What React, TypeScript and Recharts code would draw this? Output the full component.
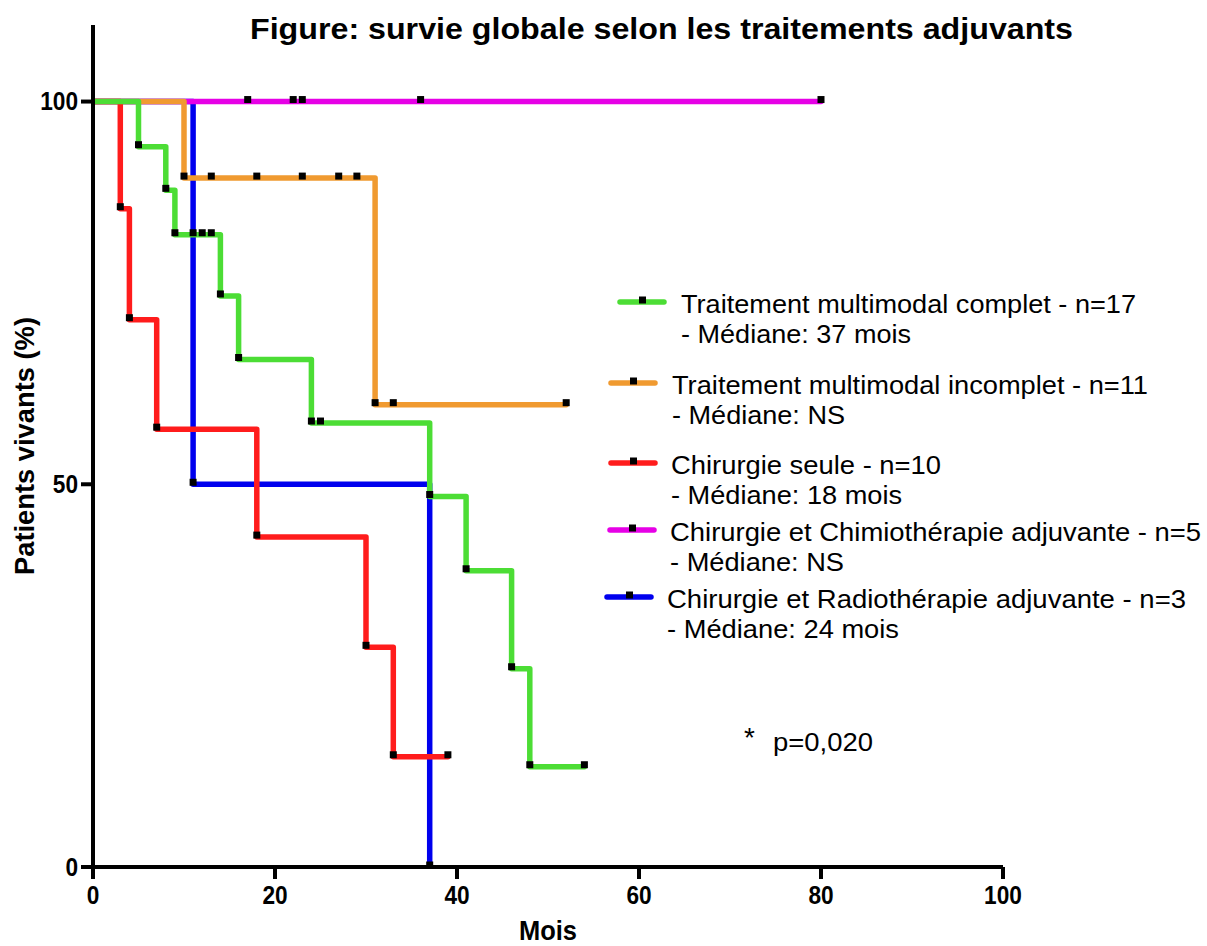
import React from 'react';
import { LineChart, Line, XAxis, YAxis } from 'recharts';

const FONT = '"Liberation Sans", Arial, Helvetica, sans-serif';

// Kaplan-Meier curves: time (mois) and survival (%) at each step / censor point
const completTimes = [0, 5, 8, 9, 11, 12, 13, 14, 16, 24, 25, 37, 41, 46, 48, 54];
const completSurv = [100, 94.1, 88.4, 82.6, 82.6, 82.6, 82.6, 74.6, 66.3, 58.0, 58.0, 48.4, 38.7, 25.9, 13.1, 13.1];

const incompletTimes = [0, 10, 13, 18, 23, 27, 29, 31, 33, 52];
const incompletSurv = [100, 90.0, 90.0, 90.0, 90.0, 90.0, 90.0, 60.4, 60.4, 60.4];

const chirTimes = [0, 3, 4, 7, 18, 30, 33, 39];
const chirSurv = [100, 86.0, 71.5, 57.2, 43.1, 28.7, 14.4, 14.4];

const chimioTimes = [0, 17, 22, 23, 36, 80];
const chimioSurv = [100, 100, 100, 100, 100, 100];

const radioTimes = [0, 11, 37];
const radioSurv = [100, 50, 0];

const xTicks = [0, 20, 40, 60, 80, 100];
const yTicks = [0, 50, 100];

const COLORS = {
  complet: '#4cdd35',
  incomplet: '#f09a30',
  chir: '#ff1c1c',
  chimio: '#e600e6',
  radio: '#0000ee',
};

const legendItems = [
  { color: COLORS.complet, line1: 'Traitement multimodal complet - n=17', line2: '- Médiane: 37 mois', x0: 620, tx: 681, y: 302, w1: 455, w2: 230 },
  { color: COLORS.incomplet, line1: 'Traitement multimodal incomplet - n=11', line2: '- Médiane: NS', x0: 611, tx: 672, y: 383, w1: 476, w2: 173 },
  { color: COLORS.chir, line1: 'Chirurgie seule - n=10', line2: '- Médiane: 18 mois', x0: 611, tx: 671, y: 463, w1: 270, w2: 231 },
  { color: COLORS.chimio, line1: 'Chirurgie et Chimiothérapie adjuvante - n=5', line2: '- Médiane: NS', x0: 610, tx: 670, y: 530, w1: 531, w2: 174 },
  { color: COLORS.radio, line1: 'Chirurgie et Radiothérapie adjuvante - n=3', line2: '- Médiane: 24 mois', x0: 607, tx: 667, y: 597, w1: 519, w2: 232 },
];

const toPoints = (times: number[], surv: number[]) => times.map((t, i) => ({ t, s: surv[i] }));

const CensorDot = (props: any) => {
  const { cx, cy, index } = props;
  if (index === 0 || cx == null || cy == null) return <g key={`e-${index}`} />;
  return <rect key={`d-${index}`} x={cx - 3.5} y={cy - 5.5} width={7} height={7} fill="#000" />;
};

// narrow bold tick labels like the original
const NarrowTick = (props: any) => {
  const { x, y, payload, textAnchor, dy } = props;
  const label = String(payload.value);
  return (
    <text
      x={x}
      y={y}
      dy={dy}
      textAnchor={textAnchor}
      fill="#000"
      fontSize={25}
      fontWeight="bold"
      fontFamily={FONT}
      textLength={label.length * 12.6}
      lengthAdjust="spacingAndGlyphs"
    >
      {label}
    </text>
  );
};

const XTick = (props: any) => <NarrowTick {...props} textAnchor="middle" dy="0.71em" />;
const YTick = (props: any) => <NarrowTick {...props} textAnchor="end" dy="0.355em" />;

const series = [
  { key: 'radio', data: toPoints(radioTimes, radioSurv), color: COLORS.radio },
  { key: 'chimio', data: toPoints(chimioTimes, chimioSurv), color: COLORS.chimio },
  { key: 'incomplet', data: toPoints(incompletTimes, incompletSurv), color: COLORS.incomplet },
  { key: 'chir', data: toPoints(chirTimes, chirSurv), color: COLORS.chir },
  { key: 'complet', data: toPoints(completTimes, completSurv), color: COLORS.complet },
];

export default function App() {
  return (
    <div style={{ position: 'absolute', left: 0, top: 0, width: 1207, height: 946, background: '#fff' }}>
      <LineChart
        width={1207}
        height={946}
        margin={{ top: 25, right: 204, left: 33, bottom: 19 }}
      >
        <XAxis
          type="number"
          dataKey="t"
          domain={[0, 100]}
          ticks={xTicks}
          height={60}
          tickSize={12}
          tickMargin={7}
          axisLine={{ stroke: '#000', strokeWidth: 4 }}
          tickLine={{ stroke: '#000', strokeWidth: 4 }}
          tick={XTick}
          allowDataOverflow
        />
        <YAxis
          type="number"
          domain={[0, 110]}
          ticks={yTicks}
          width={60}
          tickSize={12}
          tickMargin={3}
          axisLine={{ stroke: '#000', strokeWidth: 4 }}
          tickLine={{ stroke: '#000', strokeWidth: 4 }}
          tick={YTick}
          allowDataOverflow
        />
        {series.map((s) => (
          <Line
            key={s.key}
            data={s.data}
            dataKey="s"
            type="stepAfter"
            stroke={s.color}
            strokeWidth={5.5}
            strokeLinejoin="round"
            strokeLinecap="round"
            dot={CensorDot}
            activeDot={false}
            isAnimationActive={false}
          />
        ))}
      </LineChart>

      <svg
        width={1207}
        height={946}
        style={{ position: 'absolute', left: 0, top: 0, pointerEvents: 'none' }}
        fontFamily={FONT}
      >
        <text x={250} y={39} fontSize={29} fontWeight="bold" textLength={823} lengthAdjust="spacingAndGlyphs">
          Figure: survie globale selon les traitements adjuvants
        </text>
        <text
          x={0}
          y={0}
          fontSize={28}
          fontWeight="bold"
          textAnchor="middle"
          textLength={258}
          lengthAdjust="spacingAndGlyphs"
          transform="translate(34 446) rotate(-90)"
        >
          Patients vivants (%)
        </text>
        <text x={548} y={940} fontSize={27} fontWeight="bold" textAnchor="middle" textLength={58} lengthAdjust="spacingAndGlyphs">
          Mois
        </text>

        {legendItems.map((it) => (
          <g key={it.line1}>
            <line x1={it.x0} x2={it.x0 + 44} y1={it.y} y2={it.y} stroke={it.color} strokeWidth={5.5} strokeLinecap="round" />
            <rect x={it.x0 + 19} y={it.y - 5.5} width={7} height={7} fill="#000" />
            <text x={it.tx} y={it.y + 11} fontSize={26} textLength={it.w1} lengthAdjust="spacingAndGlyphs">
              {it.line1}
            </text>
            <text x={it.tx} y={it.y + 41} fontSize={26} textLength={it.w2} lengthAdjust="spacingAndGlyphs">
              {it.line2}
            </text>
          </g>
        ))}

        <text x={744} y={747} fontSize={28}>*</text>
        <text x={773} y={751} fontSize={26} textLength={100} lengthAdjust="spacingAndGlyphs">
          p=0,020
        </text>
      </svg>
    </div>
  );
}
